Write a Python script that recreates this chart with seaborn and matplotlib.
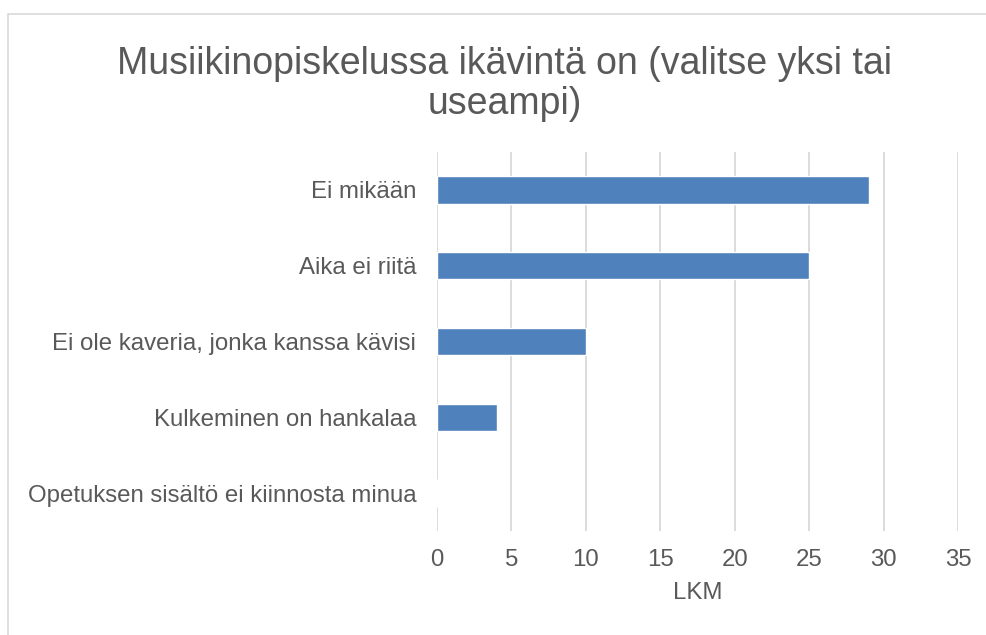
import matplotlib.pyplot as plt
import matplotlib.patches as patches
import pandas as pd
import seaborn as sns

# data
categories = ["Ei mikään", "Aika ei riitä", "Ei ole kaveria, jonka kanssa kävisi",
              "Kulkeminen on hankalaa", "Opetuksen sisältö ei kiinnosta minua"]
counts = [29, 25, 10, 4, 0]
x_ticks = [0, 5, 10, 15, 20, 25, 30, 35]

df = pd.DataFrame({"Vastaus": categories, "LKM": counts})

sns.set_style("white")
plt.rcParams["font.family"] = ["Liberation Sans", "DejaVu Sans"]
text_color = "#595959"

fig = plt.figure(figsize=(9.87, 6.35), dpi=100)
ax = fig.add_axes([0.4428, 0.1638, 0.5278, 0.5968])

sns.barplot(data=df, x="LKM", y="Vastaus", color="#4f81bd", width=0.36,
            saturation=1, ax=ax, orient="h")

ax.set_xlim(0, 35)
ax.set_xticks(x_ticks)
ax.grid(axis="x", color="#d9d9d9", linewidth=1.3)
ax.set_axisbelow(True)
for s in ax.spines.values():
    s.set_visible(False)
ax.tick_params(axis="x", length=0, pad=13, labelsize=17.3, labelcolor=text_color)
ax.tick_params(axis="y", length=0, pad=15, labelsize=17.3, labelcolor=text_color)
ax.set_ylabel("")
ax.set_xlabel("LKM", fontsize=17.3, color=text_color, labelpad=8)

fig.text(505 / 987, 1 - 84 / 635, "Musiikinopiskelussa ikävintä on (valitse yksi tai\nuseampi)",
         ha="center", va="center", fontsize=27, color=text_color, linespacing=1.17)

# light chart-area border like the original
fig.patches.append(patches.Rectangle((8 / 987, -0.1), 1.2, 1 - 14 / 635 + 0.1,
                                     transform=fig.transFigure, fill=False,
                                     edgecolor="#d9d9d9", linewidth=1.2))

fig.savefig("out.png", dpi=100)
